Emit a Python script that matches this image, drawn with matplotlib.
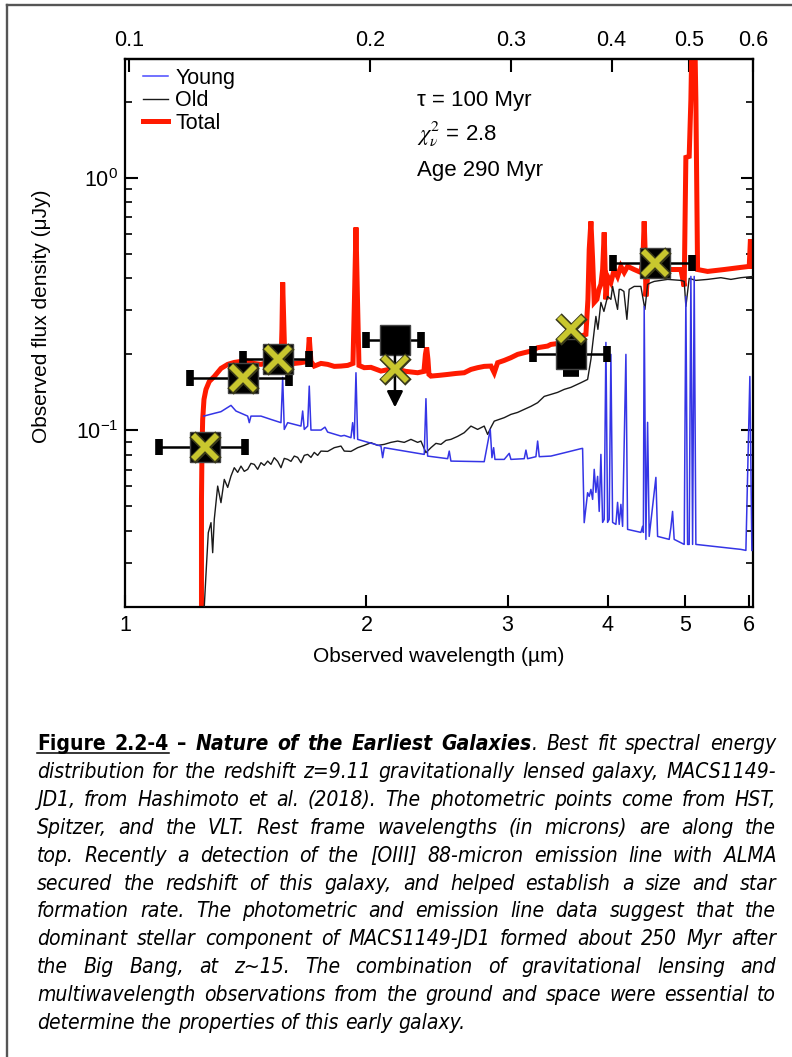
import matplotlib
matplotlib.use("Agg")
import matplotlib.pyplot as plt
from matplotlib import font_manager as fm
from matplotlib.lines import Line2D
from matplotlib.ticker import FixedLocator, FixedFormatter, NullLocator, NullFormatter

plt.rcParams['font.family'] = ['Liberation Sans', 'DejaVu Sans']

# ==========================
# data (observed wavelength in micron, flux in uJy)
# ==========================

Z_SPEC = 9.11

young_wl = [1.2535, 1.2922, 1.3173, 1.3557, 1.3753, 1.4223, 1.4289, 1.4358, 1.4777, 1.5207,
            1.5650, 1.5727, 1.5799, 1.5954, 1.6575, 1.6656, 1.6733, 1.6896, 1.6974, 1.7057,
            1.7554, 1.7758, 1.7895, 1.8592, 1.8769, 1.9133, 1.9227, 1.9316, 1.9411, 1.9506,
            2.0855, 2.0956, 2.1054, 2.3615, 2.3731, 2.3845, 2.5256, 2.5373, 2.5495, 2.8053,
            2.8543, 2.8683, 2.8822, 2.8931, 2.9713, 3.0142, 3.0290, 3.1469, 3.1624, 3.1779,
            3.2544, 3.2704, 3.2856, 3.3975, 3.5472, 3.7032, 3.7211, 3.7383, 3.7751, 3.7925,
            3.8111, 3.8298, 3.8474, 3.8660, 3.8850, 3.9029, 3.9220, 3.9413, 3.9594, 3.9788,
            3.9980, 4.0165, 4.0362, 4.0560, 4.0946, 4.1144, 4.1334, 4.1537, 4.1741, 4.2140,
            4.2343, 4.3991, 4.4205, 4.4307, 4.4411, 4.4629, 4.4848, 4.5055, 4.5929, 4.6154,
            4.7717, 4.7951, 4.8182, 4.8404, 4.9818, 5.0058, 5.0304, 5.0536, 5.0784, 5.1034,
            5.1269, 5.1516, 5.8620, 5.9473, 6.0156, 6.0501]
young_flux = [0.1139, 0.1168, 0.1186, 0.1256, 0.1193, 0.1139, 0.1073, 0.1139, 0.1139, 0.1105,
              0.1073, 0.1621, 0.1009, 0.1073, 0.1040, 0.1193, 0.1009, 0.1040, 0.1497, 0.1003,
              0.1003, 0.1030, 0.09846, 0.09493, 0.09554, 0.09357, 0.1073, 0.09273, 0.1691, 0.09214,
              0.08669, 0.07798, 0.08542, 0.08035, 0.1335, 0.07913, 0.07727, 0.08281, 0.07560, 0.07518,
              0.1009, 0.07798, 0.08542, 0.07677, 0.07677, 0.08110, 0.07677, 0.07727, 0.08356, 0.07727,
              0.07869, 0.09073, 0.07869, 0.07913, 0.08183, 0.08466, 0.08489, 0.04313, 0.05668, 0.05481,
              0.05840, 0.05333, 0.07011, 0.05684, 0.06576, 0.04779, 0.08035, 0.04324, 0.04444, 0.2229,
              0.04324, 0.04444, 0.1999, 0.04324, 0.04246, 0.05189, 0.04246, 0.05096, 0.04170, 0.1999,
              0.04057, 0.03947, 0.04170, 0.03947, 0.3095, 0.03704, 0.1076, 0.03806, 0.06516, 0.03806,
              0.03704, 0.04131, 0.04779, 0.03704, 0.03538, 0.3391, 0.03538, 0.03538, 0.4069, 0.03538,
              0.4069, 0.03538, 0.03381, 0.03350, 0.1634, 0.03350]

old_wl = [1.2557, 1.2618, 1.2702, 1.2801, 1.2863, 1.2922, 1.3049, 1.3173, 1.3299, 1.3430,
          1.3557, 1.3686, 1.3821, 1.3952, 1.4085, 1.4223, 1.4358, 1.4495, 1.4637, 1.4777,
          1.4917, 1.5064, 1.5207, 1.5351, 1.5502, 1.5650, 1.5799, 1.5954, 1.6105, 1.6260,
          1.6418, 1.6575, 1.6733, 1.6896, 1.7057, 1.7220, 1.7389, 1.7554, 1.7895, 1.8238,
          1.8592, 1.8769, 1.9133, 1.9506, 1.9878, 2.0265, 2.0658, 2.1054, 2.1462, 2.1878,
          2.2297, 2.2730, 2.3171, 2.3392, 2.3731, 2.4073, 2.4421, 2.4774, 2.5133, 2.5495,
          2.5991, 2.6488, 2.7004, 2.7527, 2.8053, 2.8329, 2.8600, 2.8873, 2.9713, 3.0290,
          3.0877, 3.1469, 3.2080, 3.2704, 3.3328, 3.3975, 3.4636, 3.5297, 3.5981, 3.7032,
          3.7751, 3.8111, 3.8298, 3.8660, 3.8884, 3.9220, 3.9560, 3.9980, 4.0362, 4.0560,
          4.0747, 4.1144, 4.1334, 4.1537, 4.1897, 4.2258, 4.2538, 4.3155, 4.3991, 4.4501,
          4.4848, 4.5272, 4.5704, 4.6593, 4.7498, 4.9347, 4.9818, 5.0058, 5.0536, 5.1516,
          5.3280, 5.5350, 5.6966, 5.8620, 6.0852]
old_flux = [0.02011, 0.02692, 0.03937, 0.04313, 0.03281, 0.04444, 0.06020, 0.05175, 0.06398, 0.05948,
            0.06594, 0.07118, 0.06821, 0.07222, 0.06884, 0.07011, 0.07403, 0.07336, 0.07011, 0.07451,
            0.07269, 0.07560, 0.07336, 0.07798, 0.07539, 0.07118, 0.07748, 0.07677, 0.07539, 0.07913,
            0.07819, 0.07451, 0.07963, 0.08035, 0.07819, 0.08183, 0.07963, 0.08281, 0.08258, 0.08542,
            0.08669, 0.08281, 0.08258, 0.08542, 0.08723, 0.08941, 0.08723, 0.08804, 0.08965, 0.09073,
            0.08965, 0.09214, 0.08965, 0.09073, 0.08162, 0.08542, 0.08885, 0.08804, 0.09130, 0.09214,
            0.09469, 0.09792, 0.1040, 0.1009, 0.1040, 0.09642, 0.1028, 0.1088, 0.1123, 0.1157,
            0.1178, 0.1211, 0.1245, 0.1287, 0.1363, 0.1388, 0.1414, 0.1453, 0.1480, 0.1544,
            0.1591, 0.1910, 0.2189, 0.2826, 0.2511, 0.3210, 0.2957, 0.3391, 0.3300, 0.3714,
            0.3453, 0.3012, 0.3614, 0.3614, 0.3548, 0.2750, 0.3614, 0.3714, 0.3714, 0.3012,
            0.3783, 0.3842, 0.3887, 0.3923, 0.3959, 0.3923, 0.3887, 0.3095, 0.3995, 0.3923,
            0.3959, 0.4021, 0.3959, 0.4021, 0.4069]

total_wl = [1.2456, 1.2456, 1.2474, 1.2499, 1.2546, 1.2618, 1.2738, 1.2922, 1.3173, 1.3430,
            1.3686, 1.3952, 1.4223, 1.4483, 1.4777, 1.5064, 1.5351, 1.5650, 1.5694, 1.5727,
            1.5785, 1.5831, 1.6260, 1.6575, 1.6896, 1.6974, 1.7057, 1.7220, 1.7554, 1.7895,
            1.8238, 1.8592, 1.8953, 1.9244, 1.9327, 1.9411, 1.9495, 1.9579, 1.9878, 2.0265,
            2.0855, 2.1338, 2.1878, 2.2406, 2.3171, 2.3594, 2.3695, 2.3779, 2.3867, 2.3936,
            2.4073, 2.4633, 2.5256, 2.5865, 2.6488, 2.7004, 2.7527, 2.8053, 2.8600, 2.8873,
            2.9154, 2.9713, 3.0290, 3.0877, 3.1469, 3.2080, 3.2704, 3.3656, 3.3975, 3.5297,
            3.5981, 3.7032, 3.7566, 3.7786, 3.7925, 3.8111, 3.8298, 3.8474, 3.8772, 3.8996,
            3.9220, 3.9413, 3.9594, 3.9788, 3.9980, 4.0362, 4.0747, 4.1144, 4.1537, 4.1934,
            4.2343, 4.3155, 4.3991, 4.4245, 4.4411, 4.4567, 4.4629, 4.4848, 4.5704, 4.7498,
            4.9347, 4.9818, 5.0058, 5.0536, 5.0784, 5.1034, 5.1269, 5.1516, 5.1768, 5.3280,
            5.5878, 5.8620, 6.0048, 6.0253, 6.0501]
total_flux = [0.01957, 0.05333, 0.08411, 0.1105, 0.1327, 0.1453, 0.1562, 0.1634, 0.1759, 0.1825,
              0.1858, 0.1875, 0.1880, 0.1841, 0.1825, 0.1858, 0.1825, 0.1841, 0.2511, 0.3852,
              0.2511, 0.1825, 0.1841, 0.1853, 0.1875, 0.2333, 0.1875, 0.1797, 0.1841, 0.1825,
              0.1792, 0.1797, 0.1808, 0.1841, 0.3300, 0.6357, 0.3300, 0.1808, 0.1771, 0.1776,
              0.1717, 0.1743, 0.1743, 0.1712, 0.1691, 0.1712, 0.1999, 0.2130, 0.1910, 0.1665,
              0.1640, 0.1651, 0.1665, 0.1680, 0.1691, 0.1743, 0.1771, 0.1792, 0.1797, 0.1691,
              0.1853, 0.1892, 0.1940, 0.1999, 0.2030, 0.2060, 0.2125, 0.2156, 0.2189, 0.2223,
              0.2271, 0.2361, 0.2398, 0.3300, 0.5203, 0.6715, 0.4746, 0.3210, 0.3300, 0.3614,
              0.3783, 0.4332, 0.6074, 0.3300, 0.4069, 0.3852, 0.4332, 0.4069, 0.4457, 0.4218,
              0.4457, 0.4332, 0.4218, 0.4746, 0.6715, 0.4746, 0.3391, 0.4069, 0.4257, 0.4332,
              0.4332, 0.3714, 1.2032, 1.2143, 2.0413, 5.0, 5.0, 2.0413, 0.4332, 0.4257,
              0.4332, 0.4416, 0.4457, 0.5701, 0.4457]

# photometry: J125, JH140, H160, IRAC1, IRAC2
phot_wl = [1.2584, 1.4044, 1.5502, 3.603, 4.576]
phot_flux = [0.08566, 0.1605, 0.1910, 0.1999, 0.4588]
phot_wl_lo = [1.1036, 1.2059, 1.4020, 3.224, 4.056]
phot_wl_hi = [1.4116, 1.6032, 1.6973, 3.987, 5.089]
phot_flux_lo = [0.08566, 0.1605, 0.1910, 0.1689, 0.4588]
phot_flux_hi = [0.08566, 0.1605, 0.1910, 0.2344, 0.4588]

# Ks band upper limit
ks_wl = 2.171
ks_flux = 0.2277
ks_wl_lo = 1.998
ks_wl_hi = 2.339
ks_arrow_tip = 0.1233

# model fluxes in the bands
model_wl = [1.2584, 1.4044, 1.5502, 2.171, 3.598, 4.576]
model_flux = [0.08566, 0.1605, 0.1910, 0.1743, 0.2511, 0.4588]

x_ticks = [1, 2, 3, 4, 5, 6]
x_ticklabels = ["1", "2", "3", "4", "5", "6"]
rest_ticks = [0.1, 0.2, 0.3, 0.4, 0.5, 0.6]
rest_ticklabels = ["0.1", "0.2", "0.3", "0.4", "0.5", "0.6"]

caption_first = [
    [("Figure", "b")], [("2.2-4", "b")], [("–", "b")],
    [("Nature", "bi")], [("of", "bi")], [("the", "bi")], [("Earliest", "bi")],
    [("Galaxies", "bi"), (".", "it")],
    [("Best", "it")], [("fit", "it")], [("spectral", "it")], [("energy", "it")],
]
caption_rest = [
    "distribution for the redshift z=9.11 gravitationally lensed galaxy, MACS1149-",
    "JD1, from Hashimoto et al. (2018). The photometric points come from HST,",
    "Spitzer, and the VLT. Rest frame wavelengths (in microns) are along the",
    "top. Recently a detection of the [OIII] 88-micron emission line with ALMA",
    "secured the redshift of this galaxy, and helped establish a size and star",
    "formation rate. The photometric and emission line data suggest that the",
    "dominant stellar component of MACS1149-JD1 formed about 250 Myr after",
    "the Big Bang, at z~15. The combination of gravitational lensing and",
    "multiwavelength observations from the ground and space were essential to",
    "determine the properties of this early galaxy.",
]

# ==========================
# figure
# ==========================

W, H = 792, 1057
fig = plt.figure(figsize=(W / 100, H / 100), dpi=100)
ax = fig.add_axes([125 / W, 1 - 607 / H, 628 / W, 548 / H])

ax.plot(total_wl, total_flux, color="#ff1a00", lw=3.6, zorder=2,
        solid_joinstyle="miter", label="Total")
ax.plot(old_wl, old_flux, color="#1a1a1a", lw=1.0, zorder=3, label="Old")
ax.plot(young_wl, young_flux, color="#3535e6", lw=1.1, zorder=4, label="Young")

# photometric points
xerr = [[w - lo for w, lo in zip(phot_wl, phot_wl_lo)],
        [hi - w for w, hi in zip(phot_wl, phot_wl_hi)]]
yerr = [[f - lo for f, lo in zip(phot_flux, phot_flux_lo)],
        [hi - f for f, hi in zip(phot_flux, phot_flux_hi)]]
ax.errorbar(phot_wl, phot_flux, xerr=xerr, yerr=yerr, fmt="none", ecolor="k",
            elinewidth=1.8, capsize=5.6, capthick=5.5, zorder=5)
ax.plot(phot_wl, phot_flux, "s", ms=21, mfc="k", mec="#444444", mew=1, zorder=6)

ax.errorbar([ks_wl], [ks_flux], xerr=[[ks_wl - ks_wl_lo], [ks_wl_hi - ks_wl]],
            fmt="none", ecolor="k", elinewidth=1.8, capsize=5.6, capthick=5.5, zorder=5)
ax.plot([ks_wl], [ks_flux], "s", ms=21, mfc="k", mec="#444444", mew=1, zorder=6)
ax.annotate("", xy=(ks_wl, ks_arrow_tip), xytext=(ks_wl, ks_flux),
            arrowprops=dict(arrowstyle="-|>", color="k", lw=1.8, mutation_scale=24,
                            shrinkA=0, shrinkB=0), zorder=6)

ax.plot(model_wl, model_flux, "x", ms=19, mew=6.5, color="#3a3a1a", zorder=7)
ax.plot(model_wl, model_flux, "x", ms=17.5, mew=4.2, color="#c9c72e", zorder=8)

# axes
ax.set_xscale("log")
ax.set_yscale("log")
ax.set_xlim(1, 6.07)
ax.set_ylim(0.02, 2.95)

ax.xaxis.set_major_locator(FixedLocator(x_ticks))
ax.xaxis.set_major_formatter(FixedFormatter(x_ticklabels))
ax.xaxis.set_minor_locator(NullLocator())
ax.yaxis.set_minor_formatter(NullFormatter())

ax.tick_params(which="both", direction="in", right=True, top=False, labelsize=15.5)
ax.tick_params(axis="x", pad=6)
ax.tick_params(axis="y", pad=5)
ax.tick_params(which="major", length=9, width=1.5)
ax.tick_params(which="minor", length=5, width=1.2)
for sp in ax.spines.values():
    sp.set_linewidth(1.6)

secax = ax.secondary_xaxis("top", functions=(lambda x: x / (1 + Z_SPEC),
                                             lambda r: r * (1 + Z_SPEC)))
secax.xaxis.set_major_locator(FixedLocator(rest_ticks))
secax.xaxis.set_major_formatter(FixedFormatter(rest_ticklabels))
secax.xaxis.set_minor_locator(NullLocator())
secax.tick_params(direction="in", length=9, width=1.5, labelsize=15.5, pad=6)
secax.spines["top"].set_linewidth(1.6)

ax.set_xlabel("Observed wavelength (µm)", fontsize=15, labelpad=8)
ax.set_ylabel("Observed flux density (μJy)", fontsize=15)
ax.yaxis.set_label_coords(-0.118, 0.53)

handles = [Line2D([], [], color="#4a4aff", lw=1.1),
           Line2D([], [], color="#1a1a1a", lw=1.0),
           Line2D([], [], color="#ff1a00", lw=3.6)]
ax.legend(handles, ["Young", "Old", "Total"], loc="upper left",
          bbox_to_anchor=(0.008, 1.008), frameon=False, fontsize=15.5,
          handlelength=1.15, handletextpad=0.35, labelspacing=0.08, borderaxespad=0.2)

ax.text(0.465, 0.925, "τ = 100 Myr", transform=ax.transAxes, fontsize=16, va="center")
ax.text(0.465, 0.862, r"$\chi^2_\nu$ = 2.8", transform=ax.transAxes, fontsize=16,
        va="center", math_fontfamily="stix")
ax.text(0.465, 0.797, "Age 290 Myr", transform=ax.transAxes, fontsize=16, va="center")

# ==========================
# frame round the figure
# ==========================

fig.add_artist(Line2D([6.5 / W, 6.5 / W], [0, 1 - 5 / H], color="#555555", lw=1.7))
fig.add_artist(Line2D([6.5 / W, 1], [1 - 5 / H, 1 - 5 / H], color="#555555", lw=1.7))

# ==========================
# caption (justified)
# ==========================


def find_font(family, stretch="normal"):
    try:
        path = fm.findfont(fm.FontProperties(family=family, stretch=stretch),
                           fallback_to_default=False)
    except ValueError:
        return None
    return path


cap_family = "Liberation Sans"
cap_stretch = "normal"
if find_font("Liberation Sans Narrow"):
    cap_family = "Liberation Sans Narrow"
else:
    p = find_font("DejaVu Sans", "condensed")
    if p and "Condensed" in p:
        cap_family = "DejaVu Sans"
        cap_stretch = "condensed"

renderer = fig.canvas.get_renderer()


def props(style, size):
    return fm.FontProperties(family=cap_family, size=size, stretch=cap_stretch,
                             weight="bold" if "b" in style else "normal",
                             style="italic" if "i" in style else "normal")


def text_w(s, style, size):
    w, h, d = renderer.get_text_width_height_descent(s, props(style, size), ismath=False)
    return w


lines = [caption_first] + [[[(w, "it")] for w in ln.split()] for ln in caption_rest]

cap_left, cap_right = 37, 776
ref_size = 10
natural = []
for ln in lines[:-1]:
    ws = sum(text_w(t, st, ref_size) for word in ln for t, st in word)
    natural.append(ws + (len(ln) - 1) * text_w(" ", "it", ref_size))
cap_size = min(16, ref_size * (cap_right - cap_left) * 0.985 / max(natural))

base0 = 750
line_gap = 27.9
for i, ln in enumerate(lines):
    yb = 1 - (base0 + i * line_gap) / H
    widths = [sum(text_w(t, st, cap_size) for t, st in word) for word in ln]
    if i < len(lines) - 1:
        gap = (cap_right - cap_left - sum(widths)) / (len(ln) - 1)
    else:
        gap = text_w(" ", "it", cap_size)
    x = cap_left
    starts = []
    for word, wd in zip(ln, widths):
        starts.append(x)
        xx = x
        for t, st in word:
            fig.text(xx / W, yb, t, fontproperties=props(st, cap_size), va="baseline", ha="left")
            xx += text_w(t, st, cap_size)
        x += wd + gap
    if i == 0:
        ul_end = starts[1] + widths[1]
        fig.add_artist(Line2D([cap_left / W, ul_end / W], [yb - 3 / H, yb - 3 / H],
                              color="k", lw=1.1))

fig.savefig("out.png", dpi=100)
plt.close(fig)
